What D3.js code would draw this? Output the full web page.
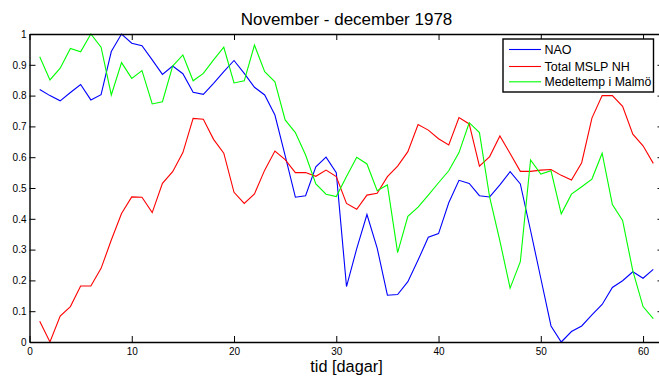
<!DOCTYPE html>
<html>
<head>
<meta charset="utf-8">
<script src="https://cdn.jsdelivr.net/npm/d3@7/dist/d3.min.js"></script>
<style>
  html, body { margin: 0; padding: 0; background: #fff; overflow: hidden; }
  svg { display: block; }
  text { font-family: "Liberation Sans", Arial, Helvetica, sans-serif; fill: #000; }
</style>
</head>
<body>
<svg id="chart" width="659" height="376"></svg>
<script>
// Normalised daily series, November - December 1978 (day 1..61)
const days = d3.range(1, 62);

const nao = [
  0.82, 0.80, 0.783, 0.81, 0.836, 0.786, 0.803, 0.943, 1.0, 0.97,
  0.962, 0.916, 0.869, 0.896, 0.871, 0.811, 0.804, 0.84, 0.878, 0.914,
  0.872, 0.827, 0.802, 0.737, 0.605, 0.47, 0.475, 0.569, 0.60, 0.55,
  0.18, 0.303, 0.414, 0.305, 0.152, 0.154, 0.196, 0.266, 0.34, 0.352,
  0.452, 0.525, 0.515, 0.475, 0.471, 0.51, 0.553, 0.513, 0.362, 0.207,
  0.052, 0.0, 0.034, 0.052, 0.088, 0.122, 0.177, 0.199, 0.228, 0.207,
  0.236
];

const mslp = [
  0.067, 0.0, 0.084, 0.115, 0.182, 0.182, 0.239, 0.331, 0.417, 0.471,
  0.47, 0.42, 0.515, 0.553, 0.615, 0.726, 0.723, 0.658, 0.613, 0.486,
  0.45, 0.481, 0.558, 0.62, 0.592, 0.55, 0.55, 0.538, 0.558, 0.537,
  0.45, 0.431, 0.477, 0.483, 0.537, 0.571, 0.618, 0.706, 0.688, 0.66,
  0.64, 0.729, 0.708, 0.571, 0.602, 0.669, 0.612, 0.554, 0.554, 0.558,
  0.56, 0.541, 0.526, 0.582, 0.727, 0.80, 0.80, 0.765, 0.675, 0.637,
  0.58
];

const temp = [
  0.926, 0.851, 0.889, 0.953, 0.942, 1.0, 0.957, 0.802, 0.907, 0.856,
  0.881, 0.773, 0.78, 0.896, 0.932, 0.848, 0.872, 0.916, 0.957, 0.841,
  0.848, 0.964, 0.878, 0.845, 0.721, 0.68, 0.607, 0.513, 0.48, 0.472,
  0.537, 0.6, 0.578, 0.491, 0.51, 0.29, 0.408, 0.438, 0.477, 0.517,
  0.556, 0.615, 0.712, 0.68, 0.47, 0.328, 0.175, 0.261, 0.591, 0.545,
  0.556, 0.416, 0.48, 0.504, 0.529, 0.613, 0.446, 0.395, 0.231, 0.115,
  0.076
];

const seriesNames = ["NAO", "Total MSLP NH", "Medeltemp i Malmö"];
const seriesColors = ["#0000ff", "#ff0000", "#00ff00"];
const seriesValues = [nao, mslp, temp];

const xTicks = [0, 10, 20, 30, 40, 50, 60];
const yTicks = [0, 0.1, 0.2, 0.3, 0.4, 0.5, 0.6, 0.7, 0.8, 0.9, 1];

const titleText = "November - december 1978";
const xLabelText = "tid [dagar]";

// Layout of the axes box
const plotLeft = 29.5, plotRight = 663.5, plotTop = 34, plotBottom = 342;
const svg = d3.select("#chart");

const x = d3.scaleLinear().domain([0, 62]).range([plotLeft, plotRight]);
const y = d3.scaleLinear().domain([0, 1]).range([plotBottom, plotTop]);

// Data lines
const line = d3.line()
  .x((d, i) => x(days[i]))
  .y(d => y(d));

seriesValues.forEach((vals, k) => {
  svg.append("path")
    .datum(vals)
    .attr("d", line)
    .attr("fill", "none")
    .attr("stroke", seriesColors[k])
    .attr("stroke-width", 1.1)
    .attr("stroke-linejoin", "miter");
});

// Axes: ticks point inward, box on all four sides
const tickLen = 6;
const fmtY = d => String(+d.toFixed(1));

const xAxisB = d3.axisBottom(x).tickValues(xTicks).tickSizeInner(-tickLen).tickSizeOuter(0).tickPadding(6);
const xAxisT = d3.axisTop(x).tickValues(xTicks).tickSizeInner(-tickLen).tickSizeOuter(0).tickFormat("");
const yAxisL = d3.axisLeft(y).tickValues(yTicks).tickSizeInner(-tickLen).tickSizeOuter(0).tickPadding(3).tickFormat(fmtY);
const yAxisR = d3.axisRight(y).tickValues(yTicks).tickSizeInner(-tickLen).tickSizeOuter(0).tickFormat("");

function styleAxis(g) {
  g.select(".domain").attr("stroke", "#000").attr("stroke-width", 1.4);
  g.selectAll(".tick line").attr("stroke", "#000").attr("stroke-width", 1);
  g.selectAll(".tick text")
    .attr("font-family", "Liberation Sans, Arial, sans-serif")
    .attr("font-size", 10)
    .attr("fill", "#111");
}

svg.append("g").attr("transform", `translate(0,${plotBottom})`).call(xAxisB).call(styleAxis);
svg.append("g").attr("transform", `translate(0,${plotTop})`).call(xAxisT).call(styleAxis);
svg.append("g").attr("transform", `translate(${plotLeft},0)`).call(yAxisL).call(styleAxis);
svg.append("g").attr("transform", `translate(${plotRight},0)`).call(yAxisR).call(styleAxis);

// Title and axis label
svg.append("text")
  .attr("x", (plotLeft + plotRight) / 2)
  .attr("y", 25)
  .attr("text-anchor", "middle")
  .attr("font-size", 17)
  .text(titleText);

svg.append("text")
  .attr("x", (plotLeft + plotRight) / 2)
  .attr("y", 372.2)
  .attr("text-anchor", "middle")
  .attr("font-size", 16.3)
  .text(xLabelText);

// Legend
const lgX = 503, lgY = 39, lgW = 150.5, lgH = 53;
const legend = svg.append("g");
legend.append("rect")
  .attr("x", lgX).attr("y", lgY)
  .attr("width", lgW).attr("height", lgH)
  .attr("fill", "#fff")
  .attr("stroke", "#000")
  .attr("stroke-width", 1.4);

const rowY = [49.5, 66.5, 81.8];
const labelX = 544.5, labelMaxW = lgX + lgW - labelX - 2;
seriesNames.forEach((name, k) => {
  legend.append("line")
    .attr("x1", 509).attr("x2", 541)
    .attr("y1", rowY[k]).attr("y2", rowY[k])
    .attr("stroke", seriesColors[k])
    .attr("stroke-width", 1.1);
  const t = legend.append("text")
    .attr("x", labelX)
    .attr("y", rowY[k] + 4.5)
    .attr("font-size", 12.5)
    .text(name);
  // keep the longest entry inside the frame
  let fs = 12.5;
  while (t.node().getComputedTextLength() > labelMaxW && fs > 9) {
    fs -= 0.25;
    t.attr("font-size", fs);
  }
});
</script>
</body>
</html>
